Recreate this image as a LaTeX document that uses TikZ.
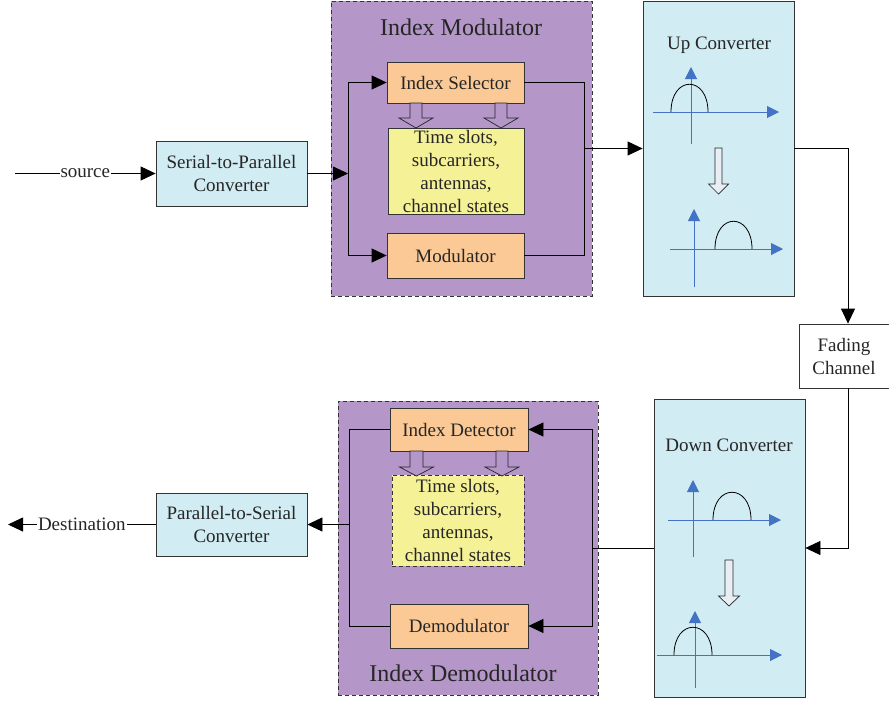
\documentclass[tikz,border=0pt]{standalone}
\usepackage{fontspec}
\setmainfont{Liberation Serif}
\usetikzlibrary{arrows.meta,calc}
\definecolor{purp}{HTML}{B496C8}
\definecolor{peach}{HTML}{FBC995}
\definecolor{yell}{HTML}{F5F197}
\definecolor{lcyan}{HTML}{D1ECF2}
\definecolor{axblue}{HTML}{4472C4}
\definecolor{txt}{HTML}{262626}
\definecolor{hollowfill}{HTML}{E9EEF5}
\newcommand\hollowarrow[7]{%
  \filldraw[hollowline, fill=#7] (#1-#5,#2) -- (#1+#5,#2) -- (#1+#5,#3) -- (#1+#6,#3) -- (#1,#4) -- (#1-#6,#3) -- (#1-#5,#3) -- cycle;}
\begin{document}
\begin{tikzpicture}[x=1pt,y=-1pt,
  box/.style={draw=black!80, line width=0.8pt, inner sep=0pt, align=center,
    font=\fontsize{19}{23}\selectfont, text=txt},
  dbox/.style={box, dashed, dash pattern=on 4pt off 3pt},
  ttl/.style={font=\fontsize{24}{28}\selectfont, text=txt, inner sep=0pt},
  lbl/.style={font=\fontsize{19}{22}\selectfont, text=txt, inner sep=1pt},
  ln/.style={draw=black, line width=0.8pt},
  arr/.style={ln, -{Triangle[length=15pt,width=14pt]}},
  axis/.style={draw=axblue, line width=1pt, -{Triangle[length=12pt,width=12pt]}},
  hump/.style={draw=black, line width=0.8pt},
  hollowline/.style={draw=black!85, line width=0.7pt}]
\useasboundingbox (0,0) rectangle (889,702);

% ---------- Index Modulator ----------
\node[dbox, fill=purp, minimum width=261pt, minimum height=295pt] (imod) at (461.5,148.5) {};
\node[ttl] (imodt) at (461,27) {Index Modulator};
\node[box, fill=peach, minimum width=137pt, minimum height=41pt] (isel) at (455.5,82.5) {Index Selector};
\node[box, fill=yell, minimum width=136pt, minimum height=86pt] (slots) at (456,171) {Time slots,\\subcarriers,\\antennas,\\channel states};
\node[box, fill=peach, minimum width=137pt, minimum height=45pt] (mod) at (455.5,255.5) {Modulator};
\hollowarrow{416}{103}{118}{128}{6}{17}{purp}
\hollowarrow{501}{103}{118}{128}{6}{17}{purp}

% ---------- Serial-to-Parallel ----------
\node[box, fill=lcyan, minimum width=151pt, minimum height=65pt] (sp) at (231.5,173.5) {Serial-to-Parallel\\Converter};
\coordinate (src) at (15,173.5);
\draw[arr] (src) -- node[lbl, fill=white] {source} (sp.west);
\coordinate (busL) at (348,173.5);
\draw[arr] (sp.east) -- (busL);
\draw[arr] (busL) |- (isel.west);
\draw[arr] (busL) |- (mod.west);

% ---------- Up Converter ----------
\node[box, fill=lcyan, minimum width=151pt, minimum height=295pt] (up) at (718.5,148.5) {};
\node[lbl] (upt) at (719,45) {Up Converter};
\draw[axis] (691,144) -- (691,67);
\draw[axis] (653,112) -- (779,112);
\draw[hump] (671,112) .. controls (671,75) and (708,75) .. (708,112);
\hollowarrow{718.5}{148}{184}{194}{3.5}{10}{hollowfill}
\draw[axis] (694,287) -- (694,209);
\draw[axis] (670,249) -- (783,249);
\draw[hump] (715,249) .. controls (715,212) and (752,212) .. (752,249);

\coordinate (busR) at (584,148.5);
\draw[ln] (isel.east) -| (busR);
\draw[ln] (mod.east) -| (busR);
\draw[arr] (busR) -- (up.west);

% ---------- Fading Channel ----------
\node[box, fill=white, minimum width=90pt, minimum height=64pt] (fade) at (844,356) {Fading\\Channel};
\coordinate (fx) at (848,0);
\draw[arr] (up.east) -| (fade.north -| fx);

% ---------- Down Converter ----------
\node[box, fill=lcyan, minimum width=151pt, minimum height=298pt] (down) at (729.5,548) {};
\node[lbl] (downt) at (729,445) {Down Converter};
\draw[axis] (693,557) -- (693,480);
\draw[axis] (668,520) -- (781,520);
\draw[hump] (713,520) .. controls (713,483) and (751,483) .. (751,520);
\hollowarrow{729}{560}{596}{606}{4}{10.5}{hollowfill}
\draw[axis] (695,688) -- (695,611);
\draw[axis] (657,655) -- (782,655);
\draw[hump] (674,655) .. controls (674,618) and (712,618) .. (712,655);
\draw[arr] (fade.south -| fx) |- (down.east);

% ---------- Index Demodulator ----------
\node[dbox, fill=purp, minimum width=260pt, minimum height=294pt] (idem) at (468,548) {};
\node[ttl] (idemt) at (463,673) {Index Demodulator};
\node[box, fill=peach, minimum width=138pt, minimum height=43pt] (idet) at (459,429.5) {Index Detector};
\node[dbox, fill=yell, minimum width=132pt, minimum height=91pt] (slots2) at (458,520.5) {Time slots,\\subcarriers,\\antennas,\\channel states};
\node[box, fill=peach, minimum width=138pt, minimum height=44pt] (demod) at (459,626) {Demodulator};
\hollowarrow{416.5}{451}{467}{476}{6.5}{17}{purp}
\hollowarrow{502}{451}{467}{476}{6}{17}{purp}

\coordinate (dbusR) at (592,548);
\draw[ln] (down.west) -- (dbusR);
\draw[arr] (dbusR) |- (idet.east);
\draw[arr] (dbusR) |- (demod.east);

% ---------- Parallel-to-Serial ----------
\node[box, fill=lcyan, minimum width=151pt, minimum height=63pt] (ps) at (231.5,524.5) {Parallel-to-Serial\\Converter};
\coordinate (dbusL) at (349,524.5);
\draw[ln] (idet.west) -| (dbusL);
\draw[ln] (demod.west) -| (dbusL);
\draw[arr] (dbusL) -- (ps.east);
\coordinate (dst) at (8,524.5);
\draw[arr] (ps.west) -- node[lbl, fill=white] {Destination} (dst);
\end{tikzpicture}
\end{document}
